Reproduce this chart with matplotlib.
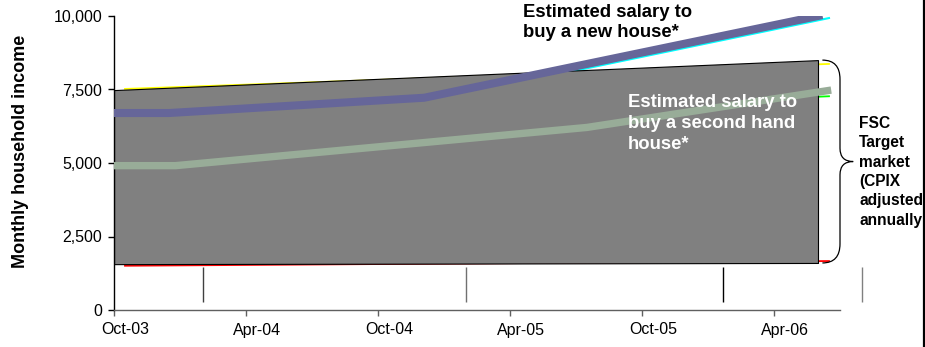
import matplotlib
matplotlib.use("Agg")
import matplotlib.pyplot as plt
from matplotlib.path import Path
from matplotlib.patches import PathPatch
from matplotlib.lines import Line2D

# ---- data (x values are months counted from October 2003) ----
tick_months = [0, 6, 12, 18, 24, 30]
tick_labels = ["Oct-03", "Apr-04", "Oct-04", "Apr-05", "Oct-05", "Apr-06"]

# FSC target market band (CPIX adjusted)
band_months = [0, 32]
band_upper = [7480, 8500]
band_lower = [1560, 1600]

# estimated salary needed to buy a new house
new_months = [0, 2.5, 14.1, 32.2]
new_salary = [6700, 6700, 7220, 10030]

# estimated salary needed to buy a second hand house
second_months = [0, 2.8, 21.5, 32.6]
second_salary = [4910, 4910, 6210, 7480]

# thin helper series sitting behind the band
upper_months = [0.5, 32.5]
upper_values = [7520, 8370]
mid_months = [0.5, 32.5]
mid_values = [6300, 7270]
lower_months = [0.5, 32.5]
lower_values = [1505, 1665]
trend_months = [18, 32.5]
trend_values = [7680, 9930]

# short vertical markers under the band
marker_months = [4.05, 16.0, 27.7, 34.0]
marker_low = 270
marker_high = 1460
marker_colors = ["#404040", "#707070", "#000000", "#808080"]

y_ticks = [0, 2500, 5000, 7500, 10000]
y_tick_labels = ["0", "2,500", "5,000", "7,500", "10,000"]

FONT = "Liberation Sans"
W, H = 925, 347

fig = plt.figure(figsize=(W / 100, H / 100), dpi=100)
ax = fig.add_axes([114 / W, 1 - 310 / H, (840 - 114) / W, (310 - 16) / H])

# background thin series
ax.plot(upper_months, upper_values, color="#ffff00", lw=1.3, zorder=1)
ax.plot(mid_months, mid_values, color="#00ff00", lw=1.3, zorder=1)
ax.plot(lower_months, lower_values, color="#ff0000", lw=1.3, zorder=1)
ax.plot(trend_months, trend_values, color="#00ffff", lw=1.5, zorder=1.5)

# target market band
ax.fill_between(band_months, band_lower, band_upper, facecolor="#808080",
                edgecolor="#000000", linewidth=0.8, zorder=2)

# salary lines
ax.plot(new_months, new_salary, color="#666699", lw=5.8,
        solid_capstyle="butt", solid_joinstyle="miter", zorder=4)
ax.plot(second_months, second_salary, color="#98ac98", lw=5.3,
        solid_capstyle="butt", solid_joinstyle="miter", zorder=4)

# vertical markers
ax.vlines(marker_months, marker_low, marker_high, colors=marker_colors,
          lw=1.0, zorder=3, clip_on=False)

# curly brace alongside the band
x0, x1, xtip = 32.2, 33.0, 33.6
ytop, ybot = band_upper[-1], band_lower[-1]
ymid = (ytop + ybot) / 2
r_end, r_tip = 650, 450
verts = [(x0, ytop), (x1, ytop), (x1, ytop - r_end),
         (x1, ymid + r_tip),
         (x1, ymid), (xtip, ymid),
         (x1, ymid), (x1, ymid - r_tip),
         (x1, ybot + r_end),
         (x1, ybot), (x0, ybot)]
codes = [Path.MOVETO, Path.CURVE3, Path.CURVE3,
         Path.LINETO,
         Path.CURVE3, Path.CURVE3,
         Path.CURVE3, Path.CURVE3,
         Path.LINETO,
         Path.CURVE3, Path.CURVE3]
ax.add_patch(PathPatch(Path(verts, codes), facecolor="none", edgecolor="#000000",
                       lw=0.9, clip_on=False, zorder=5))

# axes styling
ax.set_xlim(0, 33)
ax.set_ylim(0, 10000)
for side in ("top", "right"):
    ax.spines[side].set_visible(False)
ax.spines["left"].set_color("#000000")
ax.spines["bottom"].set_color("#606060")
ax.spines["left"].set_linewidth(1.0)
ax.spines["bottom"].set_linewidth(1.0)

ax.set_yticks(y_ticks)
ax.set_yticklabels(y_tick_labels, fontfamily=FONT, fontsize=11.5)
ax.tick_params(axis="y", direction="out", length=4, width=1, pad=4.5, colors="#000000")

ax.set_xticks(tick_months)
ax.set_xticklabels([])
ax.set_xticks([m + 0.5 for m in tick_months], minor=True)
ax.set_xticklabels(tick_labels, minor=True, fontfamily=FONT, fontsize=11.5)
ax.tick_params(axis="x", which="major", direction="out", length=4, width=1, color="#606060")
ax.tick_params(axis="x", which="minor", length=0, pad=9)

fig.text(21 / W, 1 - 151 / H, "Monthly household income", rotation=90,
         ha="center", va="center", fontfamily=FONT, fontweight="bold", fontsize=13)

fig.text(523 / W, 1 - 4 / H, "Estimated salary to\nbuy a new house*",
         ha="left", va="top", fontfamily=FONT, fontweight="bold", fontsize=13.3,
         color="#000000", linespacing=1.26)
fig.text(628 / W, 1 - 94 / H, "Estimated salary to\nbuy a second hand\nhouse*",
         ha="left", va="top", fontfamily=FONT, fontweight="bold", fontsize=13.3,
         color="#ffffff", linespacing=1.3, zorder=6)
fig.text(859 / W, 1 - 116 / H, "FSC\nTarget\nmarket\n(CPIX\nadjusted\nannually",
         ha="left", va="top", fontfamily=FONT, fontweight="bold", fontsize=11.2,
         color="#000000", linespacing=1.36)

# frame edge on the right
fig.add_artist(Line2D([923.8 / W, 923.8 / W], [0, 1], transform=fig.transFigure,
                      color="#000000", lw=1.6, zorder=10))

fig.savefig("out.png", dpi=100)
